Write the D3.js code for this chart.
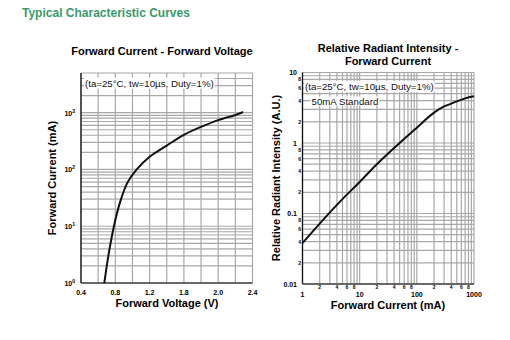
<!DOCTYPE html>
<html><head><meta charset="utf-8">
<script src="https://cdn.jsdelivr.net/npm/d3@7"></script>
<style>body{margin:0;background:#fff;} text{font-family:"Liberation Sans",Arial,sans-serif;}</style>
</head><body><svg id="c" width="510" height="340"></svg>
<script>
// ---- data ----
const fvVoltage = [0.672, 0.718, 0.784, 0.854, 0.94, 1.05, 1.2, 1.4, 1.6, 1.8, 2.0, 2.2, 2.29];
const fvCurrent = [1, 2.95, 10, 26, 58, 100, 167, 263, 407, 562, 741, 912, 1030];
const riCurrent = [1, 2, 5, 10, 20, 50, 100, 200, 300, 400, 500, 700, 1000];
const riIntensity = [0.038, 0.072, 0.16, 0.28, 0.5, 1.0, 1.65, 2.7, 3.3, 3.62, 3.9, 4.3, 4.6];
const fvXTicks = [0.4, 0.8, 1.2, 1.6, 2.0, 2.4];
const fvXTickLabels = ["0.4", "0.8", "1.2", "1.8", "2.0", "2.4"];
const fvYTicks = [1, 10, 100, 1000];
const fvYTickExp = ["0", "1", "2", "3"];
const riXMajor = [1, 10, 100, 1000];
const riXMajorLabels = ["1", "10", "100", "1000"];
const riYMajor = [0.01, 0.1, 1, 10];
const riYMajorLabels = ["0.01", "0.1", "1", "10"];
const minorLabels = [2, 4, 6, 8];

const svg = d3.select("#c");
const grid = "#a8a8a8";

svg.append("text").attr("x", 22).attr("y", 17).attr("font-size", 12).attr("font-weight", "bold")
  .attr("fill", "#3a9a6c").text("Typical Characteristic Curves");

// ---------- Left chart ----------
const x1 = d3.scaleLinear().domain([0.4, 2.4]).range([81, 252.5]);
const y1 = d3.scaleLog().domain([1, 5000]).range([283, 73]);
const g1 = svg.append("g");
g1.append("text").attr("x", 162).attr("y", 54.5).attr("text-anchor", "middle").attr("font-size", 11)
  .attr("font-weight", "bold").text("Forward Current - Forward Voltage");
const vLines1 = d3.range(0.4, 2.41, 0.2);
g1.selectAll(".v").data(vLines1).join("line").attr("x1", d => x1(d)).attr("x2", d => x1(d))
  .attr("y1", y1(5000)).attr("y2", y1(1)).attr("stroke", grid).attr("stroke-width", 1.2);
const hLines1 = [];
[1, 10, 100, 1000].forEach(dec => { for (let k = 1; k <= 9; k++) { const v = dec * k; if (v <= 5000) hLines1.push(v); } });
g1.selectAll(".h").data(hLines1).join("line").attr("x1", x1(0.4)).attr("x2", x1(2.4))
  .attr("y1", d => y1(d)).attr("y2", d => y1(d)).attr("stroke", grid).attr("stroke-width", 1.2);
g1.append("line").attr("x1", x1(0.4)).attr("x2", x1(0.4)).attr("y1", y1(5000)).attr("y2", y1(1)).attr("stroke", "#111").attr("stroke-width", 1.3);
g1.append("line").attr("x1", x1(0.4)).attr("x2", x1(2.4)).attr("y1", y1(1)).attr("y2", y1(1)).attr("stroke", "#444").attr("stroke-width", 1.5);
g1.selectAll(".xl").data(fvXTicks).join("text").attr("x", d => x1(d)).attr("y", 294.5)
  .attr("text-anchor", "middle").attr("font-size", 7).attr("font-weight", "bold").text((d, i) => fvXTickLabels[i]);
fvYTicks.forEach((d, i) => {
  const t = g1.append("text").attr("x", 75).attr("y", y1(d) + 3).attr("text-anchor", "end")
    .attr("font-size", 7).attr("font-weight", "bold");
  t.append("tspan").text("10");
  t.append("tspan").attr("dy", -3).attr("font-size", 5).text(fvYTickExp[i]);
});
const line1 = d3.line().x((d, i) => x1(fvVoltage[i])).y((d, i) => y1(fvCurrent[i])).curve(d3.curveCatmullRom);
g1.append("path").attr("d", line1(fvVoltage)).attr("fill", "none").attr("stroke", "#111").attr("stroke-width", 2);
const a1 = g1.append("text").attr("x", 85).attr("y", 86.5).attr("font-size", 9.7).attr("fill", "#111")
  .text("(ta=25°C, tw=10µs, Duty=1%)");
const b1 = a1.node().getBBox();
g1.append("rect").attr("x", b1.x - 1).attr("y", b1.y).attr("width", b1.width + 2).attr("height", b1.height).attr("fill", "#fff");
a1.raise();
g1.append("text").attr("x", 167).attr("y", 307).attr("text-anchor", "middle").attr("font-size", 11)
  .attr("font-weight", "bold").text("Forward Voltage (V)");
g1.append("text").attr("transform", "translate(55.5,178) rotate(-90)").attr("text-anchor", "middle")
  .attr("font-size", 11).attr("font-weight", "bold").text("Forward Current (mA)");

// ---------- Right chart ----------
const x2 = d3.scaleLog().domain([1, 1000]).range([302.5, 474]);
const y2 = d3.scaleLog().domain([0.01, 10]).range([284, 72.5]);
const g2 = svg.append("g");
g2.append("text").attr("x", 388).attr("y", 51.5).attr("text-anchor", "middle").attr("font-size", 11)
  .attr("font-weight", "bold").text("Relative Radiant Intensity -");
g2.append("text").attr("x", 388).attr("y", 65).attr("text-anchor", "middle").attr("font-size", 11)
  .attr("font-weight", "bold").text("Forward Current");
const vLines2 = [], hLines2 = [];
[1, 10, 100].forEach(dec => { for (let k = 1; k <= 9; k++) vLines2.push(dec * k); });
vLines2.push(1000);
[0.01, 0.1, 1].forEach(dec => { for (let k = 1; k <= 9; k++) hLines2.push(dec * k); });
hLines2.push(10);
g2.selectAll(".v").data(vLines2).join("line").attr("x1", d => x2(d)).attr("x2", d => x2(d))
  .attr("y1", y2(10)).attr("y2", y2(0.01)).attr("stroke", grid).attr("stroke-width", 1.2);
g2.selectAll(".h").data(hLines2).join("line").attr("x1", x2(1)).attr("x2", x2(1000))
  .attr("y1", d => y2(d)).attr("y2", d => y2(d)).attr("stroke", grid).attr("stroke-width", 1.2);
g2.append("line").attr("x1", x2(1)).attr("x2", x2(1)).attr("y1", y2(10)).attr("y2", y2(0.01)).attr("stroke", "#111").attr("stroke-width", 1.3);
g2.append("line").attr("x1", x2(1)).attr("x2", x2(1000)).attr("y1", y2(0.01)).attr("y2", y2(0.01)).attr("stroke", "#444").attr("stroke-width", 1.5);
g2.selectAll(".xl").data(riXMajor).join("text").attr("x", d => x2(d)).attr("y", 297)
  .attr("text-anchor", "middle").attr("font-size", 7).attr("font-weight", "bold").text((d, i) => riXMajorLabels[i]);
const xMinor = [];
[1, 10, 100].forEach(dec => minorLabels.forEach(k => xMinor.push({ v: dec * k, k })));
g2.selectAll(".xm").data(xMinor).join("text").attr("x", d => x2(d.v)).attr("y", 288.5)
  .attr("text-anchor", "middle").attr("font-size", 5).attr("font-weight", "bold").text(d => d.k);
g2.selectAll(".yl").data(riYMajor).join("text").attr("x", 297).attr("y", d => y2(d) + 2.5)
  .attr("text-anchor", "end").attr("font-size", 7).attr("font-weight", "bold").text((d, i) => riYMajorLabels[i]);
const yMinor = [];
[0.01, 0.1, 1].forEach(dec => minorLabels.forEach(k => yMinor.push({ v: dec * k, k })));
g2.selectAll(".ym").data(yMinor).join("text").attr("x", 301).attr("y", d => y2(d.v) + 2)
  .attr("text-anchor", "end").attr("font-size", 5).attr("font-weight", "bold").text(d => d.k);
const line2 = d3.line().x((d, i) => x2(riCurrent[i])).y((d, i) => y2(riIntensity[i])).curve(d3.curveMonotoneX);
g2.append("path").attr("d", line2(riCurrent)).attr("fill", "none").attr("stroke", "#111").attr("stroke-width", 2);
const a2 = g2.append("text").attr("x", 305).attr("y", 90).attr("font-size", 9.7).attr("fill", "#111")
  .text("(ta=25°C, tw=10µs, Duty=1%)");
const b2 = a2.node().getBBox();
g2.append("rect").attr("x", b2.x - 1).attr("y", b2.y).attr("width", b2.width + 2).attr("height", b2.height).attr("fill", "#fff");
a2.raise();
const a3 = g2.append("text").attr("x", 311.5).attr("y", 104.5).attr("font-size", 9.7).attr("fill", "#111")
  .text("50mA Standard");
const b3 = a3.node().getBBox();
g2.append("rect").attr("x", b3.x - 1).attr("y", b3.y + 1).attr("width", b3.width + 2).attr("height", b3.height - 2).attr("fill", "#fff");
a3.raise();
g2.append("text").attr("x", 388).attr("y", 309).attr("text-anchor", "middle").attr("font-size", 11)
  .attr("font-weight", "bold").text("Forward Current (mA)");
g2.append("text").attr("transform", "translate(280,178) rotate(-90)").attr("text-anchor", "middle")
  .attr("font-size", 11).attr("font-weight", "bold").text("Relative Radiant Intensity (A.U.)");
</script></body></html>
